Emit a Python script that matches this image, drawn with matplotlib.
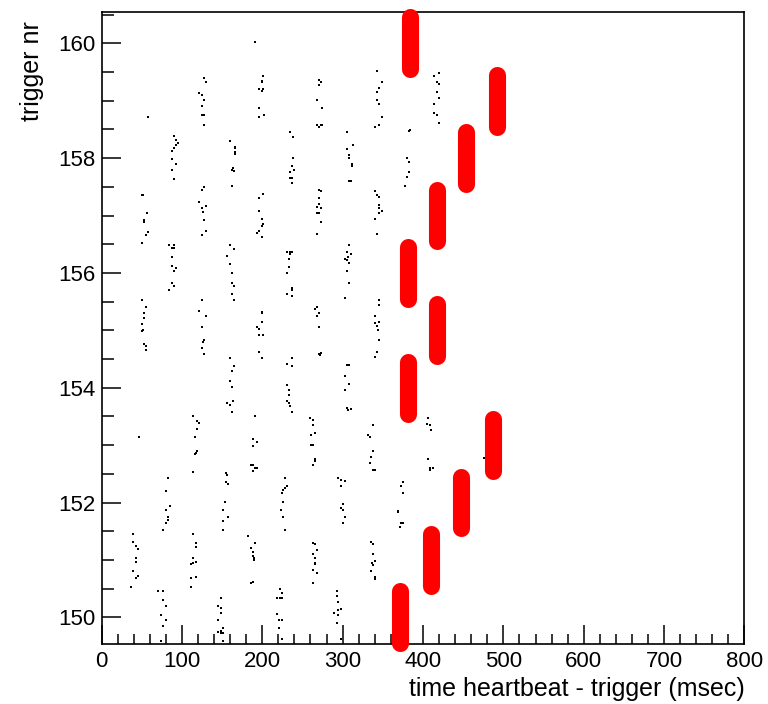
import matplotlib
matplotlib.use("Agg")
import matplotlib.pyplot as plt
from matplotlib.ticker import MultipleLocator

plt.rcParams["font.family"] = ["Liberation Sans", "DejaVu Sans"]

# heartbeat times (msec after trigger) vs trigger nr
beats_160 = [(190.9, 160.02)]
beats_159 = [
    (58.2, 158.72),
    (127.5, 159.39), (130.0, 159.32), (121.6, 159.13), (124.5, 159.10), (127.5, 159.01),
    (124.5, 158.90), (127.5, 158.75), (124.5, 158.75), (127.5, 158.57),
    (201.2, 159.43), (199.2, 159.35), (199.2, 159.32), (196.3, 159.20), (199.2, 159.17),
    (201.2, 159.21), (196.3, 158.87), (196.3, 158.72), (202.1, 158.75),
    (270.5, 159.36), (273.0, 159.32), (270.5, 159.27), (267.6, 159.02), (273.8, 158.87),
    (267.6, 158.58), (270.5, 158.55), (273.0, 158.57), (274.6, 158.58),
    (342.2, 159.51), (348.4, 159.32), (345.5, 159.23), (342.2, 159.16), (342.2, 159.02),
    (345.5, 158.94), (348.4, 158.72), (345.5, 158.58), (340.1, 158.54),
    (413.9, 159.43), (419.7, 159.48), (416.8, 159.32), (419.7, 159.29), (416.8, 159.16),
    (419.7, 159.05), (413.9, 158.94), (413.9, 158.79), (416.8, 158.75), (419.7, 158.61),
]
beats_158 = [
    (90.1, 158.39), (92.6, 158.32), (95.5, 158.26), (92.6, 158.22), (87.2, 158.12),
    (90.1, 158.17), (87.2, 157.98), (92.6, 157.89), (87.2, 157.79), (90.1, 157.64),
    (159.8, 158.30), (166.0, 158.20), (166.0, 158.17), (166.0, 158.10), (166.0, 158.07),
    (163.1, 157.82), (164.8, 157.78), (161.9, 157.79), (161.9, 157.52),
    (234.4, 158.46), (238.6, 158.37), (238.6, 158.01), (236.5, 157.87), (239.4, 157.79),
    (234.4, 157.75), (234.4, 157.65), (236.5, 157.65), (236.5, 157.56),
    (304.9, 158.46), (313.2, 158.23), (304.9, 158.16), (308.2, 158.05), (308.2, 158.01),
    (311.1, 157.90), (311.1, 157.87), (308.2, 157.60), (309.9, 157.60),
    (383.7, 158.49), (382.0, 158.48), (379.5, 158.01), (382.9, 157.94), (382.9, 157.75),
    (380.4, 157.67), (377.5, 157.52),
]
beats_157 = [
    (49.9, 157.35), (52.0, 157.35), (56.1, 157.04), (52.8, 156.92), (52.8, 156.88),
    (58.2, 156.71), (55.3, 156.66), (49.9, 156.52),
    (124.5, 157.45), (127.5, 157.49), (121.6, 157.23), (124.5, 157.13), (130.0, 157.17),
    (126.6, 157.06), (127.5, 156.92), (130.0, 156.73), (124.5, 156.66),
    (201.2, 157.37), (196.3, 157.30), (196.3, 157.08), (199.2, 156.94), (201.2, 156.85),
    (199.2, 156.81), (193.8, 156.69), (196.3, 156.73), (199.2, 156.63),
    (270.5, 157.45), (273.0, 157.42), (270.5, 157.30), (270.5, 157.20), (267.6, 157.15),
    (273.0, 157.13), (267.6, 157.04), (270.5, 157.04), (273.0, 156.88), (267.6, 156.67),
    (340.1, 157.42), (342.2, 157.36), (345.5, 157.32), (345.5, 157.18), (345.5, 157.13),
    (348.4, 157.08), (345.5, 157.04), (340.1, 156.94), (342.2, 156.67),
]
beats_156 = [
    (84.3, 156.49), (90.1, 156.49), (87.2, 156.43), (90.1, 156.43), (87.2, 156.27),
    (87.2, 156.12), (92.6, 156.08), (90.1, 156.04), (87.2, 155.82), (90.1, 155.78),
    (84.3, 155.70),
    (159.8, 156.49), (164.8, 156.41), (156.5, 156.29), (159.8, 156.15), (161.9, 156.00),
    (161.9, 155.82), (164.8, 155.78), (161.9, 155.63), (164.8, 155.52),
    (231.1, 156.37), (234.4, 156.37), (236.5, 156.37), (234.4, 156.33), (233.6, 156.24),
    (233.6, 156.11), (231.1, 156.00), (236.5, 155.73), (236.5, 155.70), (231.1, 155.63),
    (236.5, 155.59),
    (308.2, 156.49), (305.7, 156.37), (309.9, 156.33), (307.0, 156.28), (302.8, 156.24),
    (305.7, 156.22), (308.2, 156.18), (304.9, 156.04), (308.2, 155.82), (302.8, 155.56),
]
beats_155 = [
    (49.9, 155.52), (55.3, 155.41), (52.8, 155.31), (52.8, 155.21), (49.9, 155.11),
    (52.0, 155.00), (49.9, 154.98), (52.8, 154.76), (55.3, 154.73), (55.3, 154.66),
    (124.5, 155.52), (121.6, 155.34), (130.0, 155.25), (124.5, 155.06), (127.5, 154.83),
    (125.8, 154.80), (124.5, 154.70), (127.5, 154.59),
    (199.2, 155.32), (199.2, 155.30), (199.2, 155.15), (193.8, 155.06), (196.3, 155.03),
    (196.3, 154.92), (201.2, 154.92), (196.3, 154.63), (199.2, 154.51),
    (267.6, 155.41), (265.5, 155.37), (270.5, 155.30), (267.6, 155.25), (270.5, 155.06),
    (273.0, 154.61), (270.5, 154.59), (271.5, 154.57),
    (345.5, 155.52), (345.5, 155.44), (340.1, 155.25), (345.5, 155.15), (340.1, 155.12),
    (342.2, 155.07), (343.5, 155.00), (345.5, 154.84), (342.2, 154.63), (340.1, 154.54),
]
beats_154 = [
    (159.8, 154.51), (164.8, 154.37), (161.9, 154.29), (159.8, 154.11), (161.9, 154.02),
    (163.1, 153.77), (156.5, 153.73), (159.8, 153.70), (161.9, 153.58),
    (236.5, 154.51), (230.3, 154.41), (236.5, 154.37), (230.3, 154.04), (233.6, 153.96),
    (233.6, 153.87), (231.1, 153.77), (233.6, 153.73), (234.4, 153.69), (236.5, 153.58),
    (305.7, 154.40), (308.2, 154.40), (302.8, 154.21), (308.2, 154.06), (302.8, 153.96),
    (304.9, 153.65), (307.0, 153.61), (309.9, 153.63),
]
beats_153 = [
    (47.0, 153.14),
    (114.2, 153.51), (119.2, 153.42), (121.6, 153.39), (119.2, 153.28), (116.3, 153.14),
    (119.2, 152.90), (117.5, 152.86), (116.3, 152.84), (113.4, 152.54),
    (190.9, 153.51), (188.8, 153.10), (193.8, 153.05), (188.0, 152.99), (188.8, 152.65),
    (185.5, 152.65), (190.9, 152.61), (193.0, 152.61), (188.0, 152.55),
    (259.3, 153.48), (262.6, 153.44), (263.4, 153.35), (265.5, 153.21), (260.1, 153.18),
    (260.1, 153.01), (262.6, 153.01), (265.5, 152.76), (265.5, 152.72), (262.6, 152.65),
    (337.2, 153.35), (331.8, 153.18), (333.9, 153.15), (337.2, 152.90), (334.7, 152.80),
    (333.9, 152.68), (337.2, 152.57), (340.1, 152.57),
    (406.5, 153.47), (404.4, 153.36), (408.6, 153.35), (409.4, 153.26), (406.5, 152.76),
    (408.6, 152.61), (411.9, 152.60), (408.6, 152.57),
    (475.7, 152.78),
]
beats_152 = [
    (82.3, 152.42), (79.8, 152.20), (85.2, 151.94), (79.8, 151.87), (82.3, 151.75),
    (82.3, 151.70), (79.8, 151.65), (76.9, 151.53),
    (154.8, 152.51), (155.6, 152.48), (154.8, 152.35), (156.9, 152.32), (153.6, 152.01),
    (151.5, 151.87), (156.9, 151.75), (151.5, 151.68), (151.5, 151.53),
    (228.2, 152.42), (231.1, 152.28), (228.2, 152.25), (226.1, 152.21), (224.1, 152.17),
    (225.3, 152.01), (222.8, 151.87), (225.3, 151.75), (228.2, 151.53),
    (294.5, 152.42), (297.4, 152.39), (302.8, 152.38), (297.4, 152.28), (299.9, 151.97),
    (297.4, 151.91), (299.9, 151.87), (302.8, 151.75), (299.9, 151.65),
    (374.5, 152.35), (372.5, 152.28), (374.5, 152.16), (369.2, 151.86), (369.2, 151.83),
    (372.5, 151.65), (374.5, 151.65), (371.2, 151.57),
]
beats_151 = [
    (39.6, 151.46), (39.6, 151.32), (42.9, 151.24), (45.0, 151.19), (42.9, 151.04),
    (42.9, 150.97), (39.6, 150.80), (45.0, 150.72), (42.9, 150.68), (36.7, 150.53),
    (114.2, 151.46), (117.1, 151.30), (117.1, 151.23), (114.2, 151.04), (110.9, 150.93),
    (114.2, 150.94), (117.1, 150.97), (117.1, 150.71), (110.9, 150.68), (110.9, 150.53),
    (182.6, 151.42), (190.9, 151.30), (185.5, 151.20), (188.0, 151.14), (188.0, 151.07),
    (189.6, 151.04), (189.6, 151.00), (188.0, 150.62), (185.5, 150.60),
    (263.4, 151.30), (265.5, 151.28), (268.4, 151.18), (263.4, 151.11), (265.5, 151.04),
    (265.5, 150.95), (265.5, 150.93), (262.6, 150.82), (268.4, 150.78), (262.6, 150.60),
    (334.7, 151.32), (337.2, 151.28), (337.2, 151.11), (340.1, 150.98), (336.0, 150.95),
    (337.2, 150.91), (334.7, 150.80), (340.1, 150.71), (340.1, 150.66),
]
beats_150 = [
    (70.7, 150.45), (76.9, 150.45), (76.9, 150.30), (79.8, 150.19), (74.0, 150.04),
    (79.8, 149.96), (76.9, 149.85), (74.0, 149.59),
    (148.2, 150.33), (145.3, 150.20), (148.2, 150.16), (148.2, 150.08), (145.3, 149.96),
    (151.5, 149.81), (148.2, 149.77), (145.3, 149.75), (148.2, 149.73), (151.5, 149.73),
    (151.5, 149.59),
    (222.0, 150.49), (224.1, 150.42), (217.8, 150.33), (222.0, 150.33), (224.1, 150.33),
    (217.8, 150.06), (221.1, 149.96), (224.1, 149.96), (221.1, 149.81), (224.1, 149.63),
    (292.5, 150.45), (292.5, 150.37), (294.5, 150.26), (297.4, 150.14), (294.5, 150.12),
    (289.1, 150.08), (294.5, 150.04), (292.5, 149.90), (297.4, 149.63),
]

# trigger-locked response (red band per trigger)
red_trigger = [150, 151, 152, 153, 154, 155, 156, 157, 158, 159, 160]
red_time = [371.3, 409.7, 447.0, 487.0, 381.0, 417.3, 381.2, 417.3, 454.0, 491.9, 383.7]
red_low = [149.55, 150.55, 151.55, 152.55, 153.55, 154.55, 155.55, 156.55, 157.55, 158.55, 159.55]
red_high = [150.45, 151.45, 152.45, 153.45, 154.45, 155.45, 156.45, 157.45, 158.45, 159.45, 160.45]

all_beats = (beats_150 + beats_151 + beats_152 + beats_153 + beats_154 + beats_155
             + beats_156 + beats_157 + beats_158 + beats_159 + beats_160)
bx = [p[0] for p in all_beats]
by = [p[1] for p in all_beats]

fig = plt.figure(figsize=(7.68, 7.04), dpi=100)
ax = fig.add_axes([0.1322, 0.0852, 0.8372, 0.8977])

ax.plot(bx, by, "s", color="black", ms=1.7, mew=0, zorder=2)
ax.vlines(red_time, red_low, red_high, color="#ff0000", lw=12.3,
          capstyle="round", clip_on=False, zorder=3)

ax.set_xlim(0, 800)
ax.set_ylim(149.535, 160.545)
ax.xaxis.set_major_locator(MultipleLocator(100))
ax.xaxis.set_minor_locator(MultipleLocator(20))
ax.yaxis.set_major_locator(MultipleLocator(2))
ax.yaxis.set_minor_locator(MultipleLocator(0.5))
ax.tick_params(which="both", direction="in", top=False, right=False,
               width=1.1, labelsize=16, color="black")
ax.tick_params(axis="x", which="major", length=14, pad=5)
ax.tick_params(axis="x", which="minor", length=7)
ax.tick_params(axis="y", which="major", length=14, pad=4.5)
ax.tick_params(axis="y", which="minor", length=8.5)
for s in ax.spines.values():
    s.set_linewidth(1.2)

ax.set_xlabel("time heartbeat - trigger (msec)", fontsize=18, loc="right")
ax.set_ylabel("trigger nr", fontsize=18, loc="top")
ax.xaxis.set_label_coords(1.0, -0.052)
ax.yaxis.set_label_coords(-0.089, 0.985)

plt.savefig("out.png", dpi=100)
